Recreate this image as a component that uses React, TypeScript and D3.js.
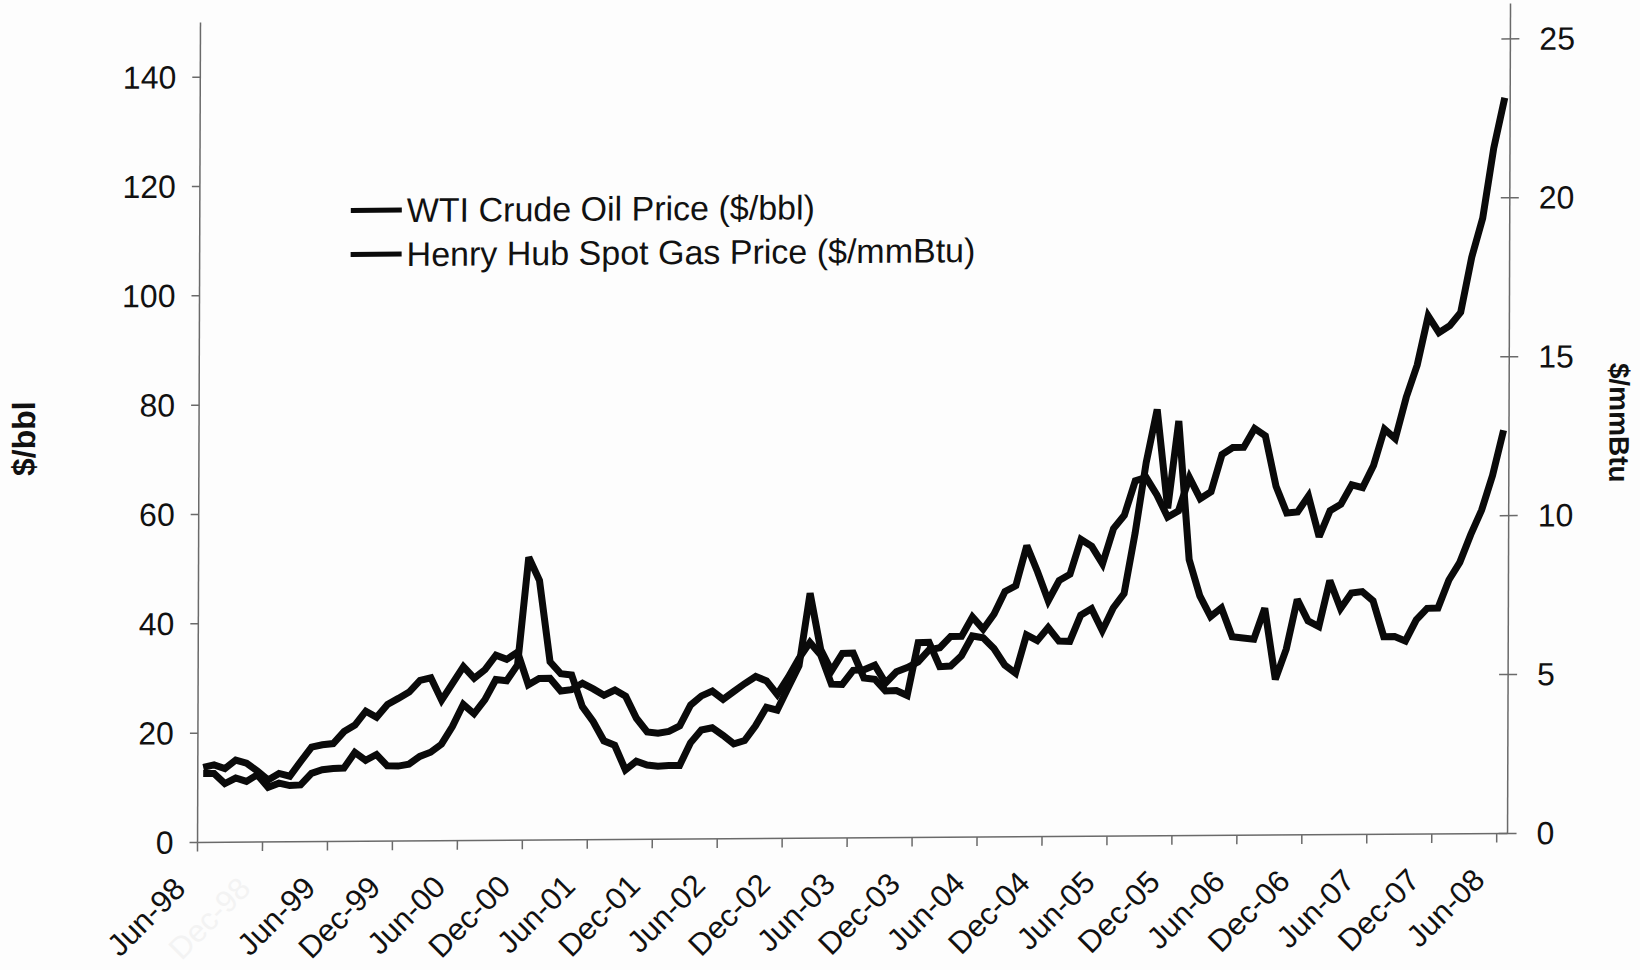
import * as d3 from "d3";

// monthly, Jun-98 .. Jun-08
const tickLabels = [
  "Jun-98", "Dec-98", "Jun-99", "Dec-99", "Jun-00", "Dec-00", "Jun-01",
  "Dec-01", "Jun-02", "Dec-02", "Jun-03", "Dec-03", "Jun-04", "Dec-04",
  "Jun-05", "Dec-05", "Jun-06", "Dec-06", "Jun-07", "Dec-07", "Jun-08",
];

const wtiPrice = [
  13.72, 14.17, 13.47, 15.03, 14.46, 13.0, 11.35,
  12.52, 12.01, 14.68, 17.31, 17.72, 17.92, 20.1, 21.28, 23.8, 22.69, 25.0, 26.1,
  27.26, 29.37, 29.84, 25.72, 28.79, 31.82, 29.7, 31.26, 33.88, 33.11, 34.42, 28.44,
  29.59, 29.61, 27.25, 27.49, 28.63, 27.6, 26.43, 27.37, 26.2, 22.17, 19.64, 19.39,
  19.72, 20.72, 24.53, 26.18, 27.04, 25.52, 26.97, 28.39, 29.66, 28.84, 26.35, 29.46,
  32.95, 35.83, 33.51, 28.17, 28.11, 30.66, 30.76, 31.57, 28.31, 30.34, 31.11, 32.13,
  34.31, 34.69, 36.74, 36.75, 40.28, 38.03, 40.78, 44.9, 45.94, 53.28, 48.47, 43.15,
  46.84, 47.97, 54.31, 53.04, 49.83, 56.26, 58.7, 64.97, 65.57, 62.37, 58.3, 59.43,
  65.51, 61.63, 62.9, 69.69, 70.94, 70.96, 74.41, 73.04, 63.8, 58.89, 59.08, 61.96,
  54.51, 59.28, 60.44, 63.98, 63.46, 67.49, 74.12, 72.36, 79.92, 85.8, 94.77, 91.69,
  92.97, 95.39, 105.45, 112.58, 125.4, 134.6,
];

const henryHubPrice = [
  2.17, 2.17, 1.85, 2.02, 1.91, 2.12, 1.72,
  1.85, 1.77, 1.79, 2.15, 2.26, 2.3, 2.31, 2.8, 2.55, 2.73, 2.37, 2.36,
  2.42, 2.66, 2.79, 3.04, 3.59, 4.29, 3.99, 4.43, 5.06, 5.02, 5.52, 8.9,
  8.17, 5.61, 5.23, 5.19, 4.19, 3.72, 3.11, 2.97, 2.19, 2.46, 2.34, 2.3,
  2.32, 2.32, 3.03, 3.43, 3.5, 3.26, 2.99, 3.09, 3.55, 4.13, 4.04, 4.74,
  5.43, 7.71, 5.93, 5.26, 5.81, 5.82, 5.03, 4.99, 4.62, 4.63, 4.47, 6.13,
  6.14, 5.37, 5.39, 5.71, 6.33, 6.27, 5.93, 5.41, 5.15, 6.35, 6.17, 6.58,
  6.15, 6.14, 6.96, 7.16, 6.47, 7.18, 7.63, 9.53, 11.75, 13.42, 10.3, 13.05,
  8.69, 7.54, 6.89, 7.16, 6.25, 6.21, 6.17, 7.14, 4.9, 5.85, 7.41, 6.73,
  6.55, 8.0, 7.11, 7.6, 7.64, 7.35, 6.22, 6.22, 6.08, 6.74, 7.1, 7.11,
  7.99, 8.54, 9.41, 10.18, 11.27, 12.69,
];

const leftTicks = [0, 20, 40, 60, 80, 100, 120, 140];
const rightTicks = [0, 5, 10, 15, 20, 25];
const seriesNames = ["WTI Crude Oil Price ($/bbl)", "Henry Hub Spot Gas Price ($/mmBtu)"];

const width = 1640;
const height = 970;
const plot = { left: 199, right: 1509, top: 18, bottom: 838 };
const font = "'Liberation Sans', Arial, sans-serif";
const axisColor = "#6a6a6a";
// the scanned original is slightly skewed: right side sits higher, top leans right
const scanSkew = "matrix(1, -0.00688, -0.0036, 1, 1.55, 5.85)";

export default function App() {
  const n = wtiPrice.length;
  const x = d3.scaleLinear().domain([0, n]).range([plot.left, plot.right]);
  const yLeft = d3.scaleLinear().domain([0, 150]).range([plot.bottom, plot.top]);
  const yRight = d3.scaleLinear().domain([0, 25.8]).range([plot.bottom, plot.top]);

  const oilPath = d3
    .line<number>()
    .x((_, i) => x(i + 0.5))
    .y((d) => yLeft(d))(wtiPrice);
  const gasPath = d3
    .line<number>()
    .x((_, i) => x(i + 0.5))
    .y((d) => yRight(d))(henryHubPrice);

  return (
    <svg
      width={width}
      height={height}
      viewBox={`0 0 ${width} ${height}`}
      style={{ position: "absolute", left: 0, top: 0, fontFamily: font }}
    >
      <rect width={width} height={height} fill="#fdfdfd" />

      <g transform={scanSkew}>
        {/* left axis */}
        <line x1={plot.left} x2={plot.left} y1={plot.top} y2={plot.bottom} stroke={axisColor} strokeWidth={1.5} />
        {leftTicks.map((t) => (
          <g key={t}>
            <line x1={plot.left - 8} x2={plot.left} y1={yLeft(t)} y2={yLeft(t)} stroke={axisColor} strokeWidth={1.5} />
            <text x={175} y={yLeft(t)} textAnchor="end" dominantBaseline="central" fontSize={32} fill="#111">
              {t}
            </text>
          </g>
        ))}

        {/* right axis */}
        <line x1={plot.right} x2={plot.right} y1={plot.top - 10} y2={plot.bottom} stroke={axisColor} strokeWidth={1.5} />
        {rightTicks.map((t) => (
          <g key={t}>
            <line x1={plot.right - 9} x2={plot.right + 9} y1={yRight(t)} y2={yRight(t)} stroke={axisColor} strokeWidth={1.5} />
            <text x={1538} y={yRight(t)} textAnchor="start" dominantBaseline="central" fontSize={32} fill="#111">
              {t}
            </text>
          </g>
        ))}

        {/* x axis */}
        <line x1={plot.left} x2={plot.right} y1={plot.bottom} y2={plot.bottom} stroke={axisColor} strokeWidth={1.5} />
        {tickLabels.map((label, k) => {
          const tx = x(k * 6);
          return (
            <g key={label}>
              <line x1={tx} x2={tx} y1={plot.bottom} y2={plot.bottom + 9} stroke={axisColor} strokeWidth={1.5} />
              <text
                transform={`translate(${tx - 10}, ${plot.bottom + 48}) rotate(-45)`}
                textAnchor="end"
                fontSize={31}
                fill={label === "Dec-98" ? "#f3f3f3" : "#111"}
              >
                {label}
              </text>
            </g>
          );
        })}

        {/* axis titles */}
        <text
          transform="translate(24, 433) rotate(-90)"
          textAnchor="middle"
          dominantBaseline="central"
          fontSize={32}
          fontWeight="bold"
          fill="#111"
        >
          $/bbl
        </text>
        <text
          transform="translate(1619, 428) rotate(90)"
          textAnchor="middle"
          dominantBaseline="central"
          fontSize={28}
          fontWeight="bold"
          fill="#111"
        >
          $/mmBtu
        </text>

        {/* series */}
        <path d={gasPath ?? ""} fill="none" stroke="#0a0a0a" strokeWidth={7} strokeLinejoin="miter" strokeMiterlimit={3} />
        <path d={oilPath ?? ""} fill="none" stroke="#0a0a0a" strokeWidth={7} strokeLinejoin="miter" strokeMiterlimit={3} />

        {/* legend */}
        {seriesNames.map((name, i) => {
          const ly = 207 + i * 44;
          return (
            <g key={name}>
              <line x1={350} x2={401} y1={ly} y2={ly} stroke="#0a0a0a" strokeWidth={5} />
              <text x={406} y={ly} dominantBaseline="central" fontSize={34} fill="#111">
                {name}
              </text>
            </g>
          );
        })}
      </g>
    </svg>
  );
}
